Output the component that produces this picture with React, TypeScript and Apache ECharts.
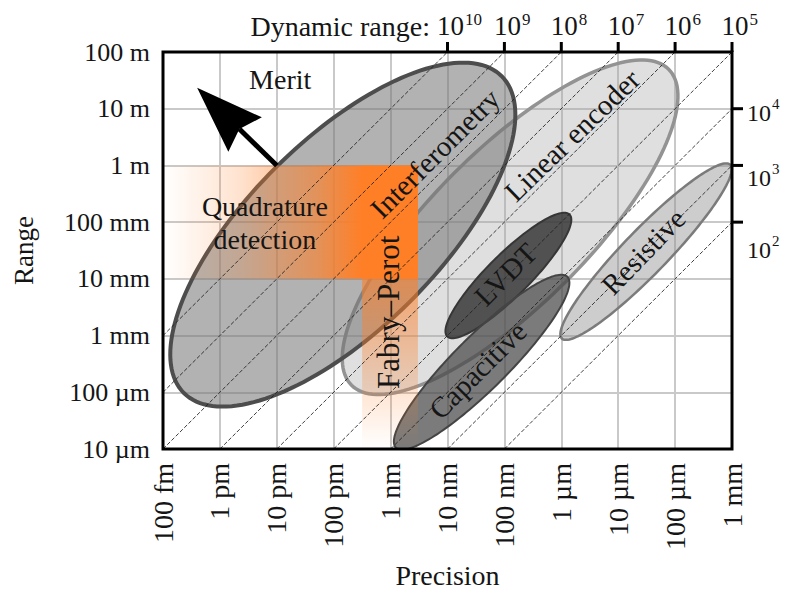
import React, { useEffect, useRef } from 'react';
import * as echarts from 'echarts';

// ---------- data (all values are log10 of metres / ratios) ----------
const X_MIN = -13; // 100 fm
const X_MAX = -3; // 1 mm
const Y_MIN = -5; // 10 µm
const Y_MAX = 2; // 100 m

const precisionLabels = ['100 fm', '1 pm', '10 pm', '100 pm', '1 nm', '10 nm', '100 nm', '1 µm', '10 µm', '100 µm', '1 mm'];
const rangeLabels = ['10 µm', '100 µm', '1 mm', '10 mm', '100 mm', '1 m', '10 m', '100 m'];

// dynamic range = range / precision (log10)
const dynamicRangeLines = [2, 3, 4, 5, 6, 7, 8, 9, 10];
const dynamicRangeTop = [10, 9, 8, 7, 6, 5];
const dynamicRangeRight = [4, 3, 2];

// sensing technologies (drawn in this order)
const techNames = ['Linear encoder', 'Interferometry', 'LVDT', 'Capacitive', 'Resistive'];
const techCenterPrecision = [-6.9, -9.84, -6.93, -7.4, -4.51];
const techCenterRange = [-1.09, -1.22, -1.94, -3.47, -1.52];
const techMajor = [3.94, 3.95, 1.52, 2.13, 2.13];
const techMinor = [1.37, 1.67, 0.37, 0.47, 0.39];
const techTilt = [45, 45, 45, 45, 46];

// orange bands: [precision from, precision to, range from, range to]
const quadratureBand = [-13, -8.52, -2, 0];
const fabryPerotBand = [-9.5, -8.52, -5, 0];

// merit arrow: [from precision, from range, to precision, to range]
const meritArrow = [-11, 0, -12.4, 1.37];

// ---------- styles / layout ----------
const FONT = '"Liberation Serif", "Times New Roman", Times, serif';
const TEXT = '#151515';
const ORANGE = '255,127,39';

const techStyle: Record<string, { fill: string; stroke: string; width: number; labelOffset: [number, number]; labelAngle: number }> = {
  'Linear encoder': { fill: 'rgba(165,165,165,0.36)', stroke: '#939393', width: 3.5, labelOffset: [1.09, 1.62], labelAngle: 44 },
  Interferometry: { fill: 'rgba(115,115,115,0.55)', stroke: '#4d4d4d', width: 4, labelOffset: [1.62, 1.43], labelAngle: 45 },
  LVDT: { fill: 'rgba(50,50,50,0.82)', stroke: '#363636', width: 2, labelOffset: [-0.05, 0.02], labelAngle: 45 },
  Capacitive: { fill: 'rgba(72,72,72,0.72)', stroke: '#444444', width: 2, labelOffset: [-0.07, -0.14], labelAngle: 45 },
  Resistive: { fill: 'rgba(145,145,145,0.45)', stroke: '#7b7b7b', width: 2.5, labelOffset: [-0.05, 0], labelAngle: 46 },
};

const bandFills = [
  {
    type: 'linear', x: 0, y: 0, x2: 1, y2: 0,
    colorStops: [
      { offset: 0, color: `rgba(${ORANGE},0)` },
      { offset: 0.3, color: `rgba(${ORANGE},0.22)` },
      { offset: 0.6, color: `rgba(${ORANGE},0.62)` },
      { offset: 0.78, color: `rgba(${ORANGE},1)` },
      { offset: 1, color: `rgba(${ORANGE},1)` },
    ],
  },
  {
    type: 'linear', x: 0, y: 0, x2: 0, y2: 1,
    colorStops: [
      { offset: 0, color: `rgba(${ORANGE},0.75)` },
      { offset: 0.4, color: `rgba(${ORANGE},0.62)` },
      { offset: 0.8, color: `rgba(${ORANGE},0.2)` },
      { offset: 1, color: `rgba(${ORANGE},0)` },
    ],
  },
];

const annotationLayout = [
  { text: 'Quadrature\ndetection', at: [-11.21, -1.02], angle: 0, size: 28 },
  { text: 'Fabry–Perot', at: [-9.03, -2.59], angle: 90, size: 31 },
  { text: 'Merit', at: [-10.94, 1.51], angle: 0, size: 28 },
];

const rightLabelShift = [4, 13, 28];
const LABEL_SIZE = 27;
const TECH_SIZE = 29;
const TOP_SIZE = 27;
const RIGHT_SIZE = 24;
const SUP_SIZE = 17;

function ellipsePoints(api: any, cx: number, cy: number, a: number, b: number, tiltDeg: number) {
  const th = (tiltDeg * Math.PI) / 180;
  const pts: number[][] = [];
  const n = 160;
  for (let k = 0; k < n; k++) {
    const t = (k / n) * Math.PI * 2;
    const ex = a * Math.cos(t);
    const ey = b * Math.sin(t);
    pts.push(api.coord([cx + ex * Math.cos(th) - ey * Math.sin(th), cy + ex * Math.sin(th) + ey * Math.cos(th)]));
  }
  return pts;
}

function textEl(text: string, x: number, y: number, opts: any = {}) {
  return {
    type: 'text',
    x,
    y,
    rotation: opts.rotation || 0,
    style: {
      text,
      fill: TEXT,
      font: `${opts.size || LABEL_SIZE}px ${FONT}`,
      align: opts.align || 'center',
      verticalAlign: opts.verticalAlign || 'middle',
      lineHeight: opts.lineHeight,
    },
  };
}

const ellipseData = techNames.map((_, i) => [techCenterPrecision[i], techCenterRange[i], techMajor[i], techMinor[i], techTilt[i]]);

function buildOption() {
  return {
    animation: false,
    backgroundColor: '#ffffff',
    grid: { left: 163, right: 53, top: 52, bottom: 144 },
    xAxis: {
      type: 'value',
      min: X_MIN,
      max: X_MAX,
      interval: 1,
      position: 'bottom',
      name: 'Precision',
      nameLocation: 'middle',
      nameGap: 112,
      nameTextStyle: { fontFamily: FONT, fontSize: 28, color: TEXT },
      axisLine: { show: false },
      axisTick: { show: false },
      axisLabel: {
        rotate: 90,
        margin: 14,
        fontFamily: FONT,
        fontSize: 28,
        color: TEXT,
        formatter: (v: number) => precisionLabels[Math.round(v - X_MIN)] ?? '',
      },
      splitLine: { show: true, lineStyle: { color: '#c9c9c9', width: 2 } },
    },
    yAxis: {
      type: 'value',
      min: Y_MIN,
      max: Y_MAX,
      interval: 1,
      name: 'Range',
      nameLocation: 'middle',
      nameRotate: 90,
      nameGap: 126,
      nameTextStyle: { fontFamily: FONT, fontSize: 27, color: TEXT },
      axisLine: { show: false },
      axisTick: { show: false },
      axisLabel: {
        margin: 13,
        fontFamily: FONT,
        fontSize: 26,
        color: TEXT,
        formatter: (v: number) => rangeLabels[Math.round(v - Y_MIN)] ?? '',
      },
      splitLine: { show: true, lineStyle: { color: '#c9c9c9', width: 2 } },
    },
    series: [
      // ellipses
      {
        type: 'custom',
        z: 2,
        clip: true,
        silent: true,
        data: ellipseData,
        renderItem: (params: any, api: any) => {
          const st = techStyle[techNames[params.dataIndex]];
          const pts = ellipsePoints(api, api.value(0), api.value(1), api.value(2), api.value(3), api.value(4));
          return {
            type: 'polygon',
            shape: { points: pts },
            style: { fill: st.fill, stroke: st.stroke, lineWidth: st.width },
          };
        },
      },
      // orange bands
      {
        type: 'custom',
        z: 3,
        clip: true,
        silent: true,
        data: [quadratureBand, fabryPerotBand],
        renderItem: (params: any, api: any) => {
          const p0 = api.coord([api.value(0), api.value(3)]);
          const p1 = api.coord([api.value(1), api.value(2)]);
          return {
            type: 'rect',
            shape: { x: p0[0], y: p0[1], width: p1[0] - p0[0], height: p1[1] - p0[1] },
            style: { fill: bandFills[params.dataIndex] },
          };
        },
      },
      // dynamic range diagonals
      {
        type: 'custom',
        z: 4,
        clip: true,
        silent: true,
        data: dynamicRangeLines.map((d) => [d]),
        renderItem: (params: any, api: any) => {
          const d = api.value(0);
          const xs = Math.max(X_MIN, Y_MIN - d);
          const xe = Math.min(X_MAX, Y_MAX - d);
          if (xs >= xe) return null;
          const p0 = api.coord([xs, xs + d]);
          const p1 = api.coord([xe, xe + d]);
          return {
            type: 'line',
            shape: { x1: p0[0], y1: p0[1], x2: p1[0], y2: p1[1] },
            style: { stroke: 'rgba(30,30,30,0.85)', lineWidth: 1, lineDash: [4, 2] },
          };
        },
      },
      // merit arrow
      {
        type: 'custom',
        z: 5,
        clip: false,
        silent: true,
        data: [meritArrow],
        renderItem: (params: any, api: any) => {
          const p0 = api.coord([api.value(0), api.value(1)]);
          const p1 = api.coord([api.value(2), api.value(3)]);
          const len = Math.hypot(p1[0] - p0[0], p1[1] - p0[1]);
          const dx = (p1[0] - p0[0]) / len;
          const dy = (p1[1] - p0[1]) / len;
          const nx = -dy;
          const ny = dx;
          const L = 67;
          const W = 24;
          const notch = 59;
          const base = [p1[0] - dx * L, p1[1] - dy * L];
          const nb = [p1[0] - dx * notch, p1[1] - dy * notch];
          return {
            type: 'group',
            children: [
              {
                type: 'line',
                shape: { x1: p0[0], y1: p0[1], x2: nb[0], y2: nb[1] },
                style: { stroke: '#000', lineWidth: 5 },
              },
              {
                type: 'polygon',
                shape: {
                  points: [p1, [base[0] + nx * W, base[1] + ny * W], nb, [base[0] - nx * W, base[1] - ny * W]],
                },
                style: { fill: '#000' },
              },
            ],
          };
        },
      },
      // technology labels
      {
        type: 'custom',
        z: 6,
        clip: false,
        silent: true,
        data: ellipseData,
        renderItem: (params: any, api: any) => {
          const name = techNames[params.dataIndex];
          const st = techStyle[name];
          const p = api.coord([api.value(0) + st.labelOffset[0], api.value(1) + st.labelOffset[1]]);
          return textEl(name, p[0], p[1], { rotation: (st.labelAngle * Math.PI) / 180, size: TECH_SIZE });
        },
      },
      // other annotations
      {
        type: 'custom',
        z: 6,
        clip: false,
        silent: true,
        data: annotationLayout.map((a) => a.at),
        renderItem: (params: any, api: any) => {
          const a = annotationLayout[params.dataIndex];
          const p = api.coord([api.value(0), api.value(1)]);
          return textEl(a.text, p[0], p[1], { rotation: (a.angle * Math.PI) / 180, lineHeight: 33, size: a.size });
        },
      },
      // frame
      {
        type: 'custom',
        z: 10,
        clip: false,
        silent: true,
        data: [[X_MIN, Y_MIN, X_MAX, Y_MAX]],
        renderItem: (params: any, api: any) => {
          const p0 = api.coord([api.value(0), api.value(3)]);
          const p1 = api.coord([api.value(2), api.value(1)]);
          return {
            type: 'rect',
            shape: { x: p0[0], y: p0[1], width: p1[0] - p0[0], height: p1[1] - p0[1] },
            style: { fill: 'none', stroke: '#000', lineWidth: 3 },
          };
        },
      },
      // top dynamic-range ticks and labels
      {
        type: 'custom',
        z: 10,
        clip: false,
        silent: true,
        data: dynamicRangeTop.map((d) => [Y_MAX - d, Y_MAX, d]),
        renderItem: (params: any, api: any) => {
          const p = api.coord([api.value(0), api.value(1)]);
          const d = api.value(2);
          const baseW = TOP_SIZE; // "10" in a Times-metric font
          const children: any[] = [
            { type: 'line', shape: { x1: p[0], y1: p[1], x2: p[0], y2: p[1] - 10 }, style: { stroke: '#000', lineWidth: 3 } },
            textEl('10', p[0] - baseW / 2 + 3, p[1] - 26, { align: 'left', size: TOP_SIZE }),
            textEl(String(d), p[0] + baseW / 2 + 4, p[1] - 33, { align: 'left', size: SUP_SIZE }),
          ];
          if (params.dataIndex === 0) {
            children.push(textEl('Dynamic range:', p[0] - baseW / 2 - 4, p[1] - 26, { align: 'right', size: 28 }));
          }
          return { type: 'group', children };
        },
      },
      // right dynamic-range ticks and labels
      {
        type: 'custom',
        z: 10,
        clip: false,
        silent: true,
        data: dynamicRangeRight.map((d) => [X_MAX, X_MAX + d, d]),
        renderItem: (params: any, api: any) => {
          const p = api.coord([api.value(0), api.value(1)]);
          const d = api.value(2);
          const shift = rightLabelShift[params.dataIndex];
          const x0 = p[0] + 15;
          return {
            type: 'group',
            children: [
              { type: 'line', shape: { x1: p[0], y1: p[1], x2: p[0] + 11, y2: p[1] }, style: { stroke: '#000', lineWidth: 3 } },
              textEl('10', x0, p[1] + shift, { align: 'left', size: RIGHT_SIZE }),
              textEl(String(d), x0 + RIGHT_SIZE + 1, p[1] + shift - 9, { align: 'left', size: 15 }),
            ],
          };
        },
      },
    ],
  };
}

export default function App() {
  const ref = useRef<HTMLDivElement>(null);
  useEffect(() => {
    if (!ref.current) return;
    const chart = echarts.init(ref.current, null, { renderer: 'svg' });
    chart.setOption(buildOption() as any);
    return () => chart.dispose();
  }, []);
  return (
    <div
      ref={ref}
      style={{ position: 'fixed', left: 0, top: 0, width: 785, height: 594, background: '#ffffff' }}
    />
  );
}
